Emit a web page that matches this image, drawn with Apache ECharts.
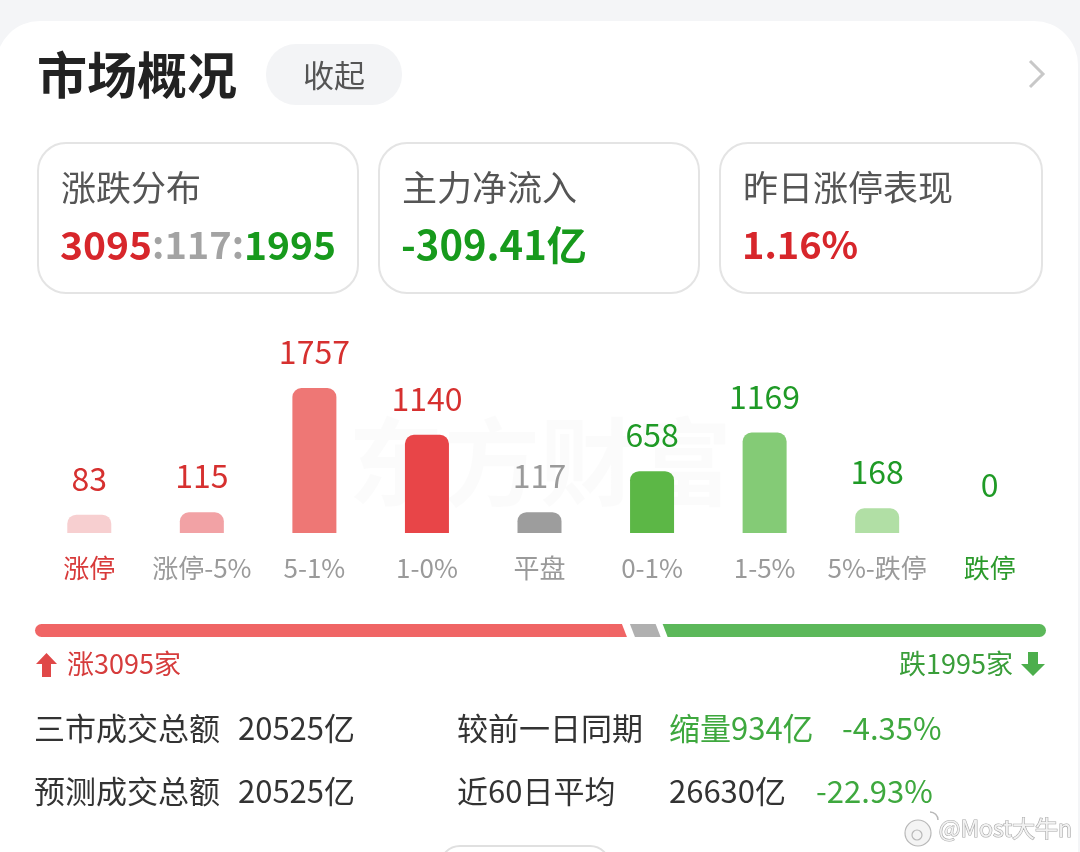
<!DOCTYPE html>
<html>
<head>
<meta charset="utf-8">
<script src="https://cdn.jsdelivr.net/npm/echarts@6/dist/echarts.min.js"></script>
<style>
html,body{margin:0;padding:0;background:#f4f5f7;}
#chart{width:1080px;height:852px;}
</style>
</head>
<body>
<div id="chart"></div>
<script>
// ---- data ----
const categories = ['涨停', '涨停-5%', '5-1%', '1-0%', '平盘', '0-1%', '1-5%', '5%-跌停', '跌停'];
const counts = [83, 115, 1757, 1140, 117, 658, 1169, 168, 0];
const upCount = 3095;
const flatCount = 117;
const downCount = 1995;
const netInflow = '-309.41亿';
const limitUpPerf = '1.16%';
const turnoverTotal = '20525亿';
const forecastTotal = '20525亿';
const vsPrevAmount = '缩量934亿';
const vsPrevPct = '-4.35%';
const avg60Amount = '26630亿';
const avg60Pct = '-22.93%';

// ---- styles ----
const CJK = '"Noto Sans CJK SC", "Noto Sans", sans-serif';
const barColors = ['#f7cfd0', '#f2a2a5', '#ee7775', '#e84548', '#9d9d9d', '#5cb746', '#84cb76', '#b1dfa5', '#b1dfa5'];
const labelColors = ['#d6302f', '#d6302f', '#d6302f', '#d6302f', '#9a9a9a', '#1f9a26', '#1f9a26', '#1f9a26', '#1f9a26'];
const catColors = ['#d83a3a', '#9a9a9a', '#9a9a9a', '#9a9a9a', '#9a9a9a', '#9a9a9a', '#9a9a9a', '#9a9a9a', '#2b9a2b'];
const BAR_FLOOR = 12; // visual minimum stub added above the baseline
const BAR_W = 44;

const total = upCount + flatCount + downCount;
const segData = [
  [0, upCount, 0],
  [upCount, upCount + flatCount, 1],
  [upCount + flatCount, total, 2]
];

const chart = echarts.init(document.getElementById('chart'), null, {renderer: 'canvas'});

function t(text, x, y, size, fill, opts) {
  opts = opts || {};
  return {
    type: 'text', x: x, y: y, z: opts.z || 10,
    style: Object.assign({
      text: text, fill: fill,
      font: (opts.weight || 'normal') + ' ' + size + 'px ' + CJK,
      align: opts.align || 'left', verticalAlign: 'middle'
    }, opts.style || {})
  };
}

const graphics = [
  {type: 'rect', z: 0, shape: {x: -4, y: 21, width: 1082, height: 900, r: 44}, style: {fill: '#ffffff'}},
  // watermark
  t('东方财富', 540, 462, 96, 'rgba(0,0,0,0.016)', {align: 'center', weight: 'bold', z: 1}),
  // title
  t('市场概况', 37, 75, 50, '#222222', {weight: 'bold'}),
  {type: 'rect', z: 5, shape: {x: 266, y: 44, width: 136, height: 61, r: 30}, style: {fill: '#f3f4f6'}},
  t('收起', 334, 75, 31, '#555555', {align: 'center'}),
  {type: 'polyline', z: 5, shape: {points: [[1030, 61], [1043, 74], [1030, 87]]}, style: {stroke: '#c8c8c8', lineWidth: 3, fill: null}},
  // cards
  {type: 'rect', z: 5, shape: {x: 38, y: 143, width: 320, height: 150, r: 28}, style: {fill: '#fff', stroke: '#e4e4e4', lineWidth: 2}},
  {type: 'rect', z: 5, shape: {x: 379, y: 143, width: 320, height: 150, r: 28}, style: {fill: '#fff', stroke: '#e4e4e4', lineWidth: 2}},
  {type: 'rect', z: 5, shape: {x: 720, y: 143, width: 322, height: 150, r: 28}, style: {fill: '#fff', stroke: '#e4e4e4', lineWidth: 2}},
  t('涨跌分布', 61, 188, 35, '#555555'),
  t('主力净流入', 402, 188, 35, '#555555'),
  t('昨日涨停表现', 743, 188, 35, '#555555'),
  {
    type: 'text', x: 60, y: 245, z: 10,
    style: {
      text: '{r|' + upCount + '}{g|:' + flatCount + ':}{d|' + downCount + '}',
      font: 'bold 39px ' + CJK, verticalAlign: 'middle', align: 'left',
      rich: {
        r: {fill: '#d7262b', fontSize: 39, fontWeight: 'bold', fontFamily: CJK},
        g: {fill: '#a3a3a3', fontSize: 38, fontWeight: 'bold', fontFamily: CJK},
        d: {fill: '#179a1c', fontSize: 39, fontWeight: 'bold', fontFamily: CJK}
      }
    }
  },
  t(netInflow, 401, 245, 40, '#179a1c', {weight: 'bold'}),
  t(limitUpPerf, 742, 245, 38, '#d7262b', {weight: 'bold'}),
  // up/down legend
  {type: 'polygon', z: 10, shape: {points: [[46.5, 653], [57, 664], [51, 664], [51, 677], [42, 677], [42, 664], [36, 664]]}, style: {fill: '#e04848'}},
  t('涨' + upCount + '家', 67, 664, 27, '#d63c3c'),
  {type: 'polygon', z: 10, shape: {points: [[1028, 652], [1038, 652], [1038, 664], [1045, 664], [1033, 676], [1021, 664], [1028, 664]]}, style: {fill: '#4cae4c'}},
  t('跌' + downCount + '家', 1013, 664, 27, '#3a9e3a', {align: 'right'}),
  // stats rows
  t('三市成交总额', 34, 728, 31, '#333333'),
  t(turnoverTotal, 238, 728, 31, '#333333'),
  t('较前一日同期', 457, 728, 31, '#333333'),
  t(vsPrevAmount, 669, 728, 31, '#3ea83e'),
  t(vsPrevPct, 842, 728, 31, '#3ea83e'),
  t('预测成交总额', 34, 791, 31, '#333333'),
  t(forecastTotal, 238, 791, 31, '#333333'),
  t('近60日平均', 457, 791, 31, '#333333'),
  t(avg60Amount, 669, 791, 31, '#333333'),
  t(avg60Pct, 816, 791, 31, '#3ea83e'),
  // bottom partial pill
  {type: 'rect', z: 5, shape: {x: 440, y: 846, width: 170, height: 40, r: 20}, style: {fill: '#fff', stroke: '#e0e0e0', lineWidth: 2}},
  // weibo watermark
  {type: 'circle', z: 20, shape: {cx: 918, cy: 833, r: 13}, style: {fill: '#f4f4f4', stroke: '#b8b8b8', lineWidth: 1.2}},
  {type: 'circle', z: 21, shape: {cx: 917, cy: 835, r: 5}, style: {fill: '#f4f4f4', stroke: '#b8b8b8', lineWidth: 1.2}},
  {type: 'arc', z: 21, shape: {cx: 930, cy: 820, r: 8, startAngle: -Math.PI / 2, endAngle: 0}, style: {stroke: '#b8b8b8', lineWidth: 1.5, fill: null}},
  t('@Most大牛n', 1072, 828, 23, '#f2f2f2', {z: 20, align: 'right', style: {stroke: '#a8a8a8', lineWidth: 1.2}})
];

const option = {
  animation: false,
  backgroundColor: 'transparent',
  graphic: {elements: graphics},
  grid: [
    {left: 33, width: 1013, top: 300, height: 233},
    {left: 35, width: 1011, top: 624, height: 13}
  ],
  xAxis: [
    {
      type: 'category', gridIndex: 0, data: categories,
      axisLine: {show: false}, axisTick: {show: false}, splitLine: {show: false},
      axisLabel: {
        interval: 0, hideOverlap: false,
        margin: 22, fontSize: 26, fontFamily: CJK,
        color: function (v, i) { return catColors[i]; }
      }
    },
    {type: 'value', gridIndex: 1, min: 0, max: total, show: false, splitLine: {show: false}}
  ],
  yAxis: [
    {type: 'value', gridIndex: 0, min: 0, max: 3080, show: false, splitLine: {show: false}},
    {type: 'category', gridIndex: 1, data: ['all'], show: false}
  ],
  series: [
    {
      type: 'custom', xAxisIndex: 0, yAxisIndex: 0, z: 5,
      data: counts.map(function (v, i) { return [i, v]; }),
      renderItem: function (params, api) {
        const i = api.value(0);
        const v = api.value(1);
        const base = api.coord([i, 0]);
        const top = api.coord([i, v]);
        const topY = top[1] - BAR_FLOOR;
        const children = [];
        if (v > 0) {
          children.push({
            type: 'rect',
            shape: {x: base[0] - BAR_W / 2, y: topY, width: BAR_W, height: base[1] - topY, r: [9, 9, 0, 0]},
            style: {fill: barColors[i]}
          });
        }
        children.push({
          type: 'text', x: base[0], y: topY - 36,
          style: {text: String(v), fill: labelColors[i], font: '32px ' + CJK, align: 'center', verticalAlign: 'middle'}
        });
        return {type: 'group', children: children};
      }
    },
    {
      type: 'custom', xAxisIndex: 1, yAxisIndex: 1, z: 5,
      data: segData,
      renderItem: function (params, api) {
        const s = api.coord([api.value(0), 0]);
        const e = api.coord([api.value(1), 0]);
        const kind = api.value(2);
        const h = 13;
        const y0 = s[1] - h / 2, y1 = s[1] + h / 2;
        if (kind === 0) {
          return {type: 'group', children: [
            {type: 'rect', shape: {x: s[0], y: y0, width: (e[0] - 24) - s[0], height: h, r: [6.5, 0, 0, 6.5]}, style: {fill: '#f06565'}},
            {type: 'polygon', shape: {points: [[e[0] - 26, y0], [e[0] - 14, y0], [e[0] - 9, y1], [e[0] - 26, y1]]}, style: {fill: '#f06565'}}
          ]};
        } else if (kind === 1) {
          return {type: 'polygon', shape: {points: [[s[0] - 6, y0], [e[0] - 3, y0], [e[0] + 2, y1], [s[0] - 1, y1]]}, style: {fill: '#b0b0b0'}};
        } else {
          return {type: 'group', children: [
            {type: 'polygon', shape: {points: [[s[0] + 4, y0], [s[0] + 22, y0], [s[0] + 22, y1], [s[0] + 9, y1]]}, style: {fill: '#5cb85a'}},
            {type: 'rect', shape: {x: s[0] + 20, y: y0, width: e[0] - (s[0] + 20), height: h, r: [0, 6.5, 6.5, 0]}, style: {fill: '#5cb85a'}}
          ]};
        }
      }
    }
  ]
};
chart.setOption(option);
</script>
</body>
</html>
